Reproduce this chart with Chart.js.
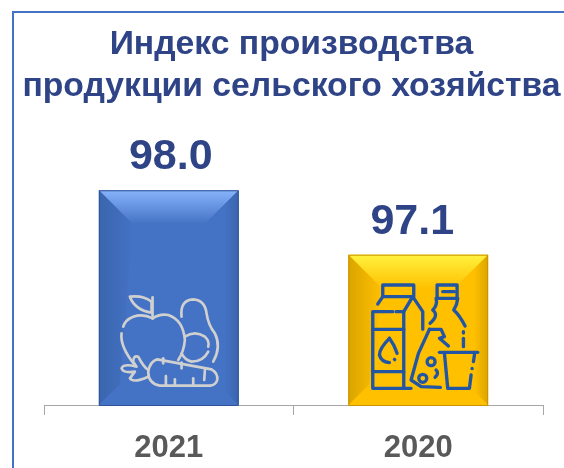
<!DOCTYPE html>
<html lang="ru">
<head>
<meta charset="utf-8">
<title>Индекс производства</title>
<script src="https://cdn.jsdelivr.net/npm/chart.js@4"></script>
<style>
  html, body { margin: 0; padding: 0; background: #fff; }
  #wrap { position: relative; width: 564px; height: 468px; overflow: hidden; }
  #frame { position: absolute; left: 12px; top: 11px; width: 640px; height: 600px; border: 2.5px solid #4472c4; box-sizing: border-box; }
  #chart { position: absolute; left: 0; top: 0; }
</style>
</head>
<body>
<div id="wrap">
  <div id="frame"></div>
  <canvas id="chart" width="564" height="468"></canvas>
</div>
<script>
/* ─── Data ────────────────────────────────────────────────────────────────── */
const TITLE_LINES = ['Индекс производства', 'продукции сельского хозяйства'];
const YEARS  = ['2021', '2020'];
const VALUES = [98.0, 97.1];
const FONT = "'Liberation Sans', Arial, sans-serif";

/* bar looks: base fill, bevel colours, label nudge */
const BASE_COLORS = ['#4472c4', '#ffc000'];
const TOP_COLORS  = ['#86b3fb', '#fff23e'];
const SIDE_COLORS = ['#3a65ae', '#dba500'];
const EDGE_COLORS = ['#2f5597', '#c89400'];
const LABEL_NUDGE = [2, -6];

/* ─── Icons, drawn in a local 3x grid anchored on the bar ─────────────────── */
function strokePaths(ctx, paths) {
  paths.forEach(d => ctx.stroke(new Path2D(d)));
}

function drawProduce(ctx, left, base) {
  ctx.save();
  ctx.translate(left - 19, base - 235);
  ctx.scale(1 / 3, 1 / 3);
  ctx.strokeStyle = '#d0d0d0';
  ctx.lineWidth = 8;
  ctx.lineCap = 'round';
  ctx.lineJoin = 'round';
  strokePaths(ctx, [
    'M150,380 Q190,375 215,395 L215,428 Q165,420 150,380',
    'M218,382 L218,445',
    'M218,445 Q240,430 265,435 Q310,450 315,510 Q312,545 295,570',
    'M218,445 Q190,430 160,440 Q135,450 130,470',
    'M125,490 Q120,530 165,585',
    'M305,440 Q300,390 340,388 Q375,390 380,430 Q385,465 405,490 Q425,530 400,575',
    'M315,500 Q345,480 375,500 Q390,515 385,530',
    'M385,545 Q370,575 335,575 Q315,570 305,550',
    'M232,568 L395,598 Q415,610 412,630 Q408,645 390,647 L240,647 Q205,640 205,605 Q210,575 232,568',
    'M258,618 L258,645', 'M285,628 L285,645', 'M340,625 L340,645', 'M375,600 L373,630',
    'M250,565 L250,580', 'M305,578 L305,595',
    'M205,600 Q190,590 175,560 Q160,555 160,575 L170,590 Q130,580 125,595 Q130,610 165,605 L150,625 Q160,640 205,620',
  ]);
  ctx.restore();
}

function drawDairy(ctx, left, base) {
  ctx.save();
  ctx.translate(left - 17.3, base - 165);
  ctx.scale(1 / 3, 1 / 3);
  ctx.strokeStyle = '#2255a4';
  ctx.lineWidth = 10;
  ctx.lineCap = 'round';
  ctx.lineJoin = 'round';
  strokePaths(ctx, [
    'M155,170 L155,135 L248,135 L248,170',
    'M155,170 L245,170 L275,215 L275,268',
    'M245,170 L218,215 L218,445',
    'M185,215 L125,215 L125,445 L240,445',
    'M195,215 L218,215', 'M125,268 L218,268', 'M125,395 L218,395',
    'M140,192 L155,170',
    'M175,295 Q145,325 145,345 Q150,365 175,368', 'M175,295 Q190,315 198,340', 'M190,358 L191,359',
    'M318,175 L318,135 L378,135 L378,175 Z', 'M335,155 L370,155',
    'M315,175 Q320,195 305,210 Q325,225 297,250',
    'M380,175 Q378,195 368,210 Q385,225 402,258',
    'M397,275 L397,279', 'M397,295 L397,320',
    'M295,268 L262,340 L240,420 L270,440 L328,442',
    'M295,268 L330,268 L340,290 L325,295 L352,318',
    'M312,365 A12,12 0 1 1 288,365 A12,12 0 1 1 312,365',
    'M287,415 A12,12 0 1 1 263,415 A12,12 0 1 1 287,415',
    'M315,390 Q325,400 312,412',
    'M325,337 L440,337',
    'M340,340 L350,445 L415,445 L420,405',
    'M423,385 L423,386', 'M430,345 L427,365',
  ]);
  ctx.restore();
}

const ICONS = [drawProduce, drawDairy];

/* ─── Plugin: title, wider than the plot box the built-in title is held to ── */
const wideTitle = {
  id: 'wideTitle',
  afterDraw(chart) {
    const { ctx } = chart;
    ctx.save();
    ctx.fillStyle = '#2f4486';
    ctx.font = `bold 33.7px ${FONT}`;
    ctx.textAlign = 'center';
    ctx.textBaseline = 'middle';
    TITLE_LINES.forEach((line, i) => ctx.fillText(line, 291.5, 45 + i * 42));
    ctx.restore();
  },
};

/* ─── Plugin: bevel, icons and value labels on top of the bars ────────────── */
const bevelBars = {
  id: 'bevelBars',
  afterDatasetsDraw(chart) {
    const { ctx, chartArea } = chart;
    chart.getDatasetMeta(0).data.forEach((bar, i) => {
      const l = bar.x - bar.width / 2, r = bar.x + bar.width / 2;
      const t = bar.y, b = chartArea.bottom;
      const inset = 34, low = 21;

      let g = ctx.createLinearGradient(0, t, 0, t + inset);
      g.addColorStop(0, TOP_COLORS[i]);
      g.addColorStop(1, BASE_COLORS[i]);
      ctx.fillStyle = g;
      ctx.beginPath();
      ctx.moveTo(l, t); ctx.lineTo(r, t); ctx.lineTo(r - inset, t + inset); ctx.lineTo(l + inset, t + inset);
      ctx.closePath(); ctx.fill();

      g = ctx.createLinearGradient(l, 0, l + inset, 0);
      g.addColorStop(0, SIDE_COLORS[i]);
      g.addColorStop(1, BASE_COLORS[i]);
      ctx.fillStyle = g;
      ctx.beginPath();
      ctx.moveTo(l, t); ctx.lineTo(l + inset, t + inset); ctx.lineTo(l + low, b - low); ctx.lineTo(l, b);
      ctx.closePath(); ctx.fill();

      g = ctx.createLinearGradient(r - 14, 0, r, 0);
      g.addColorStop(0, BASE_COLORS[i]);
      g.addColorStop(1, SIDE_COLORS[i]);
      ctx.fillStyle = g;
      ctx.beginPath();
      ctx.moveTo(r, t); ctx.lineTo(r - inset, t + inset); ctx.lineTo(r - low, b - low); ctx.lineTo(r, b);
      ctx.closePath(); ctx.fill();

      ctx.strokeStyle = EDGE_COLORS[i];
      ctx.lineWidth = 1;
      ctx.strokeRect(l + 0.5, t + 0.5, bar.width - 1, b - t);

      ICONS[i](ctx, l, b);

      ctx.fillStyle = '#2f4486';
      ctx.font = `bold 43px ${FONT}`;
      ctx.textAlign = 'center';
      ctx.textBaseline = 'middle';
      ctx.fillText(VALUES[i].toFixed(1), bar.x + LABEL_NUDGE[i], t - 33);
    });
  },
};

/* ─── Chart ───────────────────────────────────────────────────────────────── */
new Chart(document.getElementById('chart'), {
  type: 'bar',
  data: {
    labels: YEARS,
    datasets: [{
      data: VALUES,
      backgroundColor: BASE_COLORS,
      barPercentage: 0.56,
      categoryPercentage: 1,
      base: 95,
    }],
  },
  options: {
    responsive: false,
    animation: false,
    layout: { padding: { left: 44, right: 21, top: 154.5, bottom: 0 } },
    plugins: {
      legend: { display: false },
      tooltip: { enabled: false },
      title: { display: false },
    },
    scales: {
      y: { display: false, min: 95, max: 98.5 },
      x: {
        afterFit: s => { s.height = 63; },
        grid: { offset: true, drawOnChartArea: false, color: '#a6a6a6', tickLength: 10 },
        border: { color: '#a6a6a6' },
        ticks: { color: '#595959', font: { family: FONT, size: 31, weight: 'bold' }, padding: 15 },
      },
    },
  },
  plugins: [bevelBars, wideTitle],
});
</script>
</body>
</html>
